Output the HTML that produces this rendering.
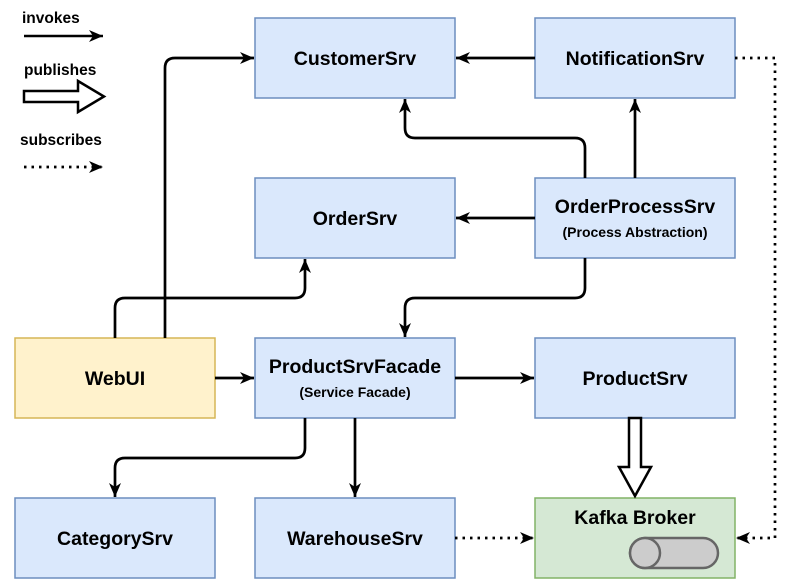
<!DOCTYPE html>
<html><head><meta charset="utf-8"><style>
html,body{margin:0;padding:0;background:#fff;}
svg{display:block;font-family:"Liberation Sans",Arial,sans-serif;font-weight:bold;}
</style></head><body>
<svg width="789" height="583" viewBox="0 0 789 583" xmlns="http://www.w3.org/2000/svg">
<defs>
<marker id="a" markerWidth="15" markerHeight="14" refX="14" refY="7" orient="auto" markerUnits="userSpaceOnUse">
<path d="M0,1 L14,7 L0,13 L4,7 Z" fill="#000"/></marker>
</defs>
<!-- legend -->
<text x="22" y="23" font-size="15.5">invokes</text>
<line x1="24" y1="36" x2="103" y2="36" stroke="#000" stroke-width="2.5" marker-end="url(#a)"/>
<text x="24" y="75" font-size="15.5">publishes</text>
<path d="M24,91 L78,91 L78,81 L104,96.5 L78,112 L78,102 L24,102 Z" fill="#fff" stroke="#000" stroke-width="2.5"/>
<text x="20" y="145" font-size="15.5">subscribes</text>
<line x1="24" y1="167" x2="103" y2="167" stroke="#000" stroke-width="2.7" stroke-dasharray="2.5,5" marker-end="url(#a)"/>

<g stroke-width="1.5">
<rect x="255" y="18" width="200" height="80" fill="#dae8fc" stroke="#6c8ebf"/>
<rect x="535" y="18" width="200" height="80" fill="#dae8fc" stroke="#6c8ebf"/>
<rect x="255" y="178" width="200" height="80" fill="#dae8fc" stroke="#6c8ebf"/>
<rect x="535" y="178" width="200" height="80" fill="#dae8fc" stroke="#6c8ebf"/>
<rect x="15" y="338" width="200" height="80" fill="#fff2cc" stroke="#d6b656"/>
<rect x="255" y="338" width="200" height="80" fill="#dae8fc" stroke="#6c8ebf"/>
<rect x="535" y="338" width="200" height="80" fill="#dae8fc" stroke="#6c8ebf"/>
<rect x="15" y="498" width="200" height="80" fill="#dae8fc" stroke="#6c8ebf"/>
<rect x="255" y="498" width="200" height="80" fill="#dae8fc" stroke="#6c8ebf"/>
<rect x="535" y="498" width="200" height="80" fill="#d5e8d4" stroke="#82b366"/>
</g>
<g font-size="19.5" text-anchor="middle" fill="#000">
<text x="355" y="65">CustomerSrv</text>
<text x="635" y="65">NotificationSrv</text>
<text x="355" y="225">OrderSrv</text>
<text x="635" y="213">OrderProcessSrv</text>
<text x="635" y="237" font-size="14">(Process Abstraction)</text>
<text x="115" y="385">WebUI</text>
<text x="355" y="373">ProductSrvFacade</text>
<text x="355" y="397" font-size="14">(Service Facade)</text>
<text x="635" y="385">ProductSrv</text>
<text x="115" y="545">CategorySrv</text>
<text x="355" y="545">WarehouseSrv</text>
<text x="635" y="524">Kafka Broker</text>
</g>
<!-- cylinder -->
<path d="M645,538 L703,538 A15,15 0 0 1 703,568 L645,568 A15,15 0 0 1 645,538 Z" fill="#ccc" stroke="#666" stroke-width="2.5"/>
<ellipse cx="645" cy="553" rx="15" ry="15" fill="#ccc" stroke="#666" stroke-width="2.5"/>

<g fill="none" stroke="#000" stroke-width="2.7" marker-end="url(#a)">
<path d="M165,338 L165,68 Q165,58 175,58 L254,58"/>
<path d="M115,338 L115,308 Q115,298 125,298 L295,298 Q305,298 305,288 L305,259"/>
<path d="M215,378 L254,378"/>
<path d="M535,58 L456,58"/>
<path d="M585,178 L585,148 Q585,138 575,138 L415,138 Q405,138 405,128 L405,99"/>
<path d="M635,178 L635,99"/>
<path d="M535,218 L456,218"/>
<path d="M585,258 L585,288 Q585,298 575,298 L415,298 Q405,298 405,308 L405,337"/>
<path d="M455,378 L534,378"/>
<path d="M305,418 L305,448 Q305,458 295,458 L125,458 Q115,458 115,468 L115,497"/>
<path d="M355,418 L355,497"/>
<path d="M455,538 L534,538" stroke-dasharray="2.5,5"/>
<path d="M735,58 L775,58 L775,538 L736,538" stroke-dasharray="2.5,5"/>
</g>
<path d="M629,418 L641,418 L641,467 L651,467 L635,496 L619,467 L629,467 Z" fill="#fff" stroke="#000" stroke-width="2.5"/>
</svg>
</body></html>
